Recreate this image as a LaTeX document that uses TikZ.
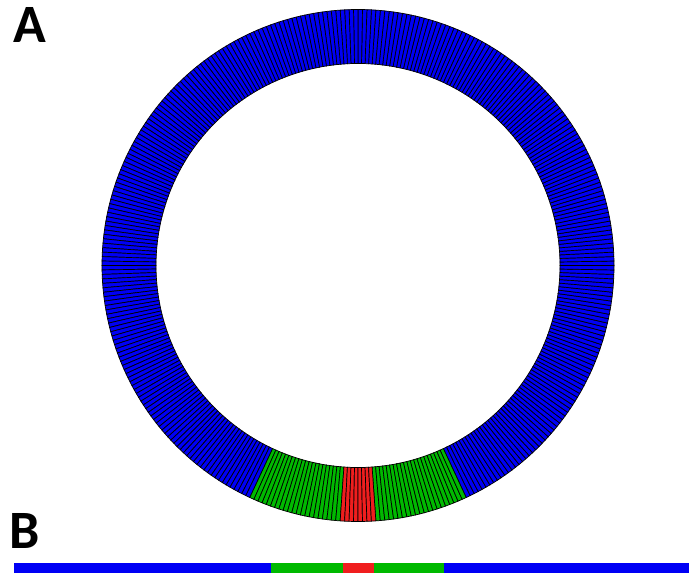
\documentclass[tikz,border=0pt]{standalone}
\usepackage{fontspec}
\setmainfont{Carlito}
\usepackage{tikz}
\definecolor{ringblue}{RGB}{0, 0, 245}
\definecolor{ringgreen}{RGB}{0, 185, 0}
\definecolor{ringred}{RGB}{240, 30, 30}
\tikzset{
  seg/.style={draw=black, line width=0.35pt},
  panel/.style={font=\fontsize{27}{30}\selectfont\bfseries, inner sep=0pt, anchor=base west},
  barpart/.style={draw=none}
}

\begin{document}
\begin{tikzpicture}[x=0.5pt, y=0.5pt]
  \useasboundingbox (0,0) rectangle (689,573);

  % Labels
  \node[panel] (labA) at (13,530) {A};
  \node[panel] (labB) at (9,25) {B};

  % Ring
  \begin{scope}[shift={(358,307.5)}]
    \foreach \a in {295,...,604}
      \draw[seg, fill=ringblue] (\a:202) arc[start angle=\a, end angle=\a+1, radius=202]
        -- (\a+1:256) arc[start angle=\a+1, end angle=\a, radius=256] -- cycle;
    \foreach \a in {245,...,265,274,275,...,294}
      \draw[seg, fill=ringgreen] (\a:202) arc[start angle=\a, end angle=\a+1, radius=202]
        -- (\a+1:256) arc[start angle=\a+1, end angle=\a, radius=256] -- cycle;
    \foreach \a in {266,...,273}
      \draw[seg, fill=ringred] (\a:202) arc[start angle=\a, end angle=\a+1, radius=202]
        -- (\a+1:256) arc[start angle=\a+1, end angle=\a, radius=256] -- cycle;
  \end{scope}

  % Bar
  \fill[barpart, ringblue]  (14,0)  rectangle (271,10);
  \fill[barpart, ringgreen] (271,0) rectangle (343,10);
  \fill[barpart, ringred]   (343,0) rectangle (374,10);
  \fill[barpart, ringgreen] (374,0) rectangle (444,10);
  \fill[barpart, ringblue]  (444,0) rectangle (689,10);

\end{tikzpicture}
\end{document}
